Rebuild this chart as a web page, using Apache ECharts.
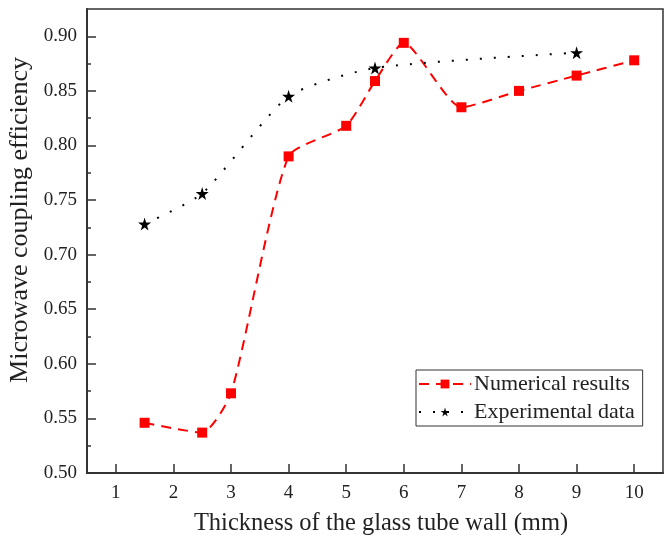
<!DOCTYPE html>
<html>
<head>
<meta charset="utf-8">
<script src="https://cdn.jsdelivr.net/npm/echarts@6/dist/echarts.min.js"></script>
<style>
  html, body { margin: 0; padding: 0; background: #fff; }
  #chart { width: 669px; height: 535px; }
</style>
</head>
<body>
<div id="chart"></div>
<script>
// values
var numX = [1.5, 2.5, 3, 4, 5, 5.5, 6, 7, 8, 9, 10];
var numY = [0.546, 0.537, 0.573, 0.790, 0.818, 0.859, 0.894, 0.835, 0.850, 0.864, 0.878];
var expX = [1.5, 2.5, 4, 5.5, 9];
var expY = [0.728, 0.756, 0.845, 0.871, 0.885];
var seriesNames = ["Numerical results", "Experimental data"];
var xTicks = [1, 2, 3, 4, 5, 6, 7, 8, 9, 10];
var yTicks = [0.5, 0.55, 0.6, 0.65, 0.7, 0.75, 0.8, 0.85, 0.9];

var star = "path://M50,0 L61,35 L98,35 L68,57 L79,91 L50,70 L21,91 L32,57 L2,35 L39,35 Z";
var serif = "Liberation Serif";

function pairs(xs, ys) {
  return xs.map(function (x, i) { return [x, ys[i]]; });
}

var chart = echarts.init(document.getElementById("chart"));
chart.setOption({
  animation: false,
  backgroundColor: "#fff",
  textStyle: { fontFamily: serif, color: "#222" },
  grid: {
    left: 87, right: 6, top: 9, bottom: 62,
    outerBoundsMode: "none",
    show: true, borderColor: "#333", borderWidth: 1.5
  },
  legend: {
    orient: "vertical",
    left: 416, top: 370,
    padding: [3, 8, 3, 2],
    itemGap: 6,
    itemWidth: 52, itemHeight: 11,
    borderColor: "#333", borderWidth: 1,
    textStyle: { fontFamily: serif, fontSize: 22, color: "#222", padding: [0, 0, 0, -2] },
    data: seriesNames
  },
  xAxis: {
    type: "value",
    min: 0.5, max: 10.5,
    interval: 1,
    name: "Thickness of the glass tube wall (mm)",
    nameLocation: "middle",
    nameGap: 38,
    nameTextStyle: { fontFamily: serif, fontSize: 24.5, color: "#222", padding: [0, 0, 0, 12] },
    axisLine: { show: true, onZero: false, lineStyle: { color: "#333", width: 2 } },
    axisTick: { show: true, inside: true, length: 9, lineStyle: { width: 1.5 }, customValues: xTicks },
    minorTick: { show: true, splitNumber: 2, length: 4, lineStyle: { color: "#333", width: 1.5 } },
    axisLabel: { fontSize: 19, color: "#222", margin: 11, customValues: xTicks },
    splitLine: { show: false }
  },
  yAxis: {
    type: "value",
    min: 0.5, max: 0.925,
    interval: 0.05,
    name: "Microwave coupling efficiency",
    nameLocation: "middle",
    nameGap: 32,
    nameTextStyle: { fontFamily: serif, fontSize: 26, color: "#222", padding: [0, 0, 0, 42] },
    axisLine: { show: true, lineStyle: { color: "#333", width: 2 } },
    axisTick: { show: true, inside: true, length: 9, lineStyle: { width: 1.5 }, customValues: yTicks },
    minorTick: { show: true, splitNumber: 2, length: 4, lineStyle: { color: "#333", width: 1.5 } },
    axisLabel: { fontSize: 19, color: "#222", margin: 10, customValues: yTicks,
      formatter: function (v) { return v.toFixed(2); } },
    splitLine: { show: false }
  },
  series: [
    {
      name: seriesNames[0],
      type: "line",
      data: pairs(numX, numY),
      smooth: 0.2,
      symbol: "rect",
      symbolSize: 10,
      itemStyle: { color: "#ff0000" },
      lineStyle: { color: "#ff0000", width: 2, type: [10, 7] },
      z: 3
    },
    {
      name: seriesNames[1],
      type: "line",
      data: pairs(expX, expY),
      smooth: 0.2,
      symbol: star,
      symbolSize: 13,
      itemStyle: { color: "#000" },
      lineStyle: { color: "#000", width: 2, type: [2, 12] },
      z: 4
    }
  ]
});
</script>
</body>
</html>
